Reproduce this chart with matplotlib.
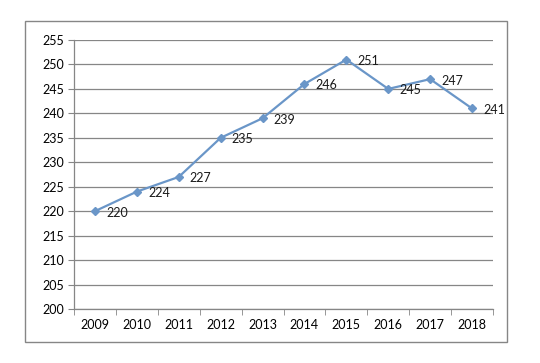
import matplotlib.pyplot as plt
import matplotlib.patches as mpatches
import numpy as np

anios = ['2009', '2010', '2011', '2012', '2013', '2014', '2015', '2016', '2017', '2018']
valores = [220, 224, 227, 235, 239, 246, 251, 245, 247, 241]
yticks = list(range(200, 256, 5))

plt.rcParams['font.family'] = ['Lato', 'DejaVu Sans']

fig = plt.figure(figsize=(5.4, 3.63), dpi=100)
ax = fig.add_axes([74/540, 1-309/363, (493-74)/540, (309-40)/363])

# marco exterior del grafico
marco = mpatches.Rectangle((25/540, 1-342/363), (507-25)/540, (342-21)/363,
                           transform=fig.transFigure, fill=False,
                           edgecolor='#868686', lw=1)
fig.patches.append(marco)

x = np.arange(len(anios))
ax.plot(x, valores, color='#6A96C8', lw=1.6, marker='D', markersize=4.5,
        markerfacecolor='#6A96C8', markeredgecolor='#6A96C8')
for xi, v in zip(x, valores):
    ax.annotate(str(v), (xi, v), xytext=(8, -1), textcoords='offset points',
                ha='left', va='center', fontsize=9, color='#1a1a1a')

ax.set_xlim(-0.5, len(anios) - 0.5)
ax.set_ylim(200, 255)
ax.set_yticks(yticks)
ax.yaxis.grid(True, color='#868686', lw=0.9)
ax.set_axisbelow(True)

ax.set_xticks(x)
ax.set_xticklabels(anios)
ax.set_xticks(np.arange(-0.5, len(anios)), minor=True)
ax.tick_params(axis='x', which='major', length=0, labelsize=9, pad=7)
ax.tick_params(axis='x', which='minor', length=4, color='#868686', direction='out')
ax.tick_params(axis='y', length=4, color='#868686', labelsize=9, pad=3)

for s in ['top', 'right']:
    ax.spines[s].set_visible(False)
for s in ['left', 'bottom']:
    ax.spines[s].set_color('#868686')
    ax.spines[s].set_linewidth(0.9)

fig.savefig('out.png', dpi=100)
